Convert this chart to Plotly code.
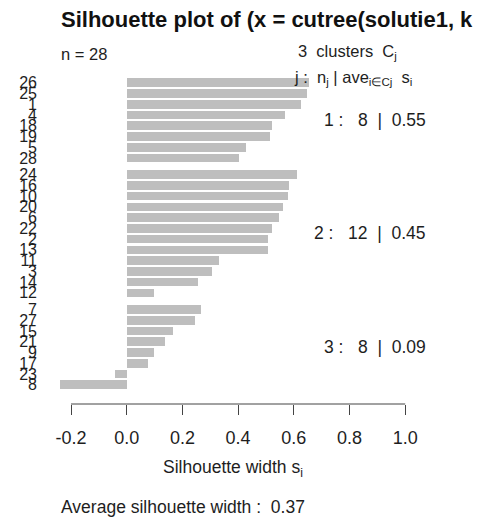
import plotly.graph_objects as go

# ---- data ----
cluster1_labels = ["26", "25", "1", "4", "18", "19", "5", "28"]
cluster1_values = [0.656, 0.648, 0.627, 0.567, 0.520, 0.515, 0.427, 0.404]
cluster2_labels = ["24", "16", "10", "20", "6", "22", "2", "13", "11", "3", "14", "12"]
cluster2_values = [0.610, 0.584, 0.579, 0.562, 0.546, 0.521, 0.506, 0.506, 0.333, 0.307, 0.257, 0.099]
cluster3_labels = ["7", "27", "15", "21", "9", "17", "23", "8"]
cluster3_values = [0.266, 0.244, 0.168, 0.139, 0.099, 0.075, -0.041, -0.239]
cluster_sizes = [8, 12, 8]
cluster_means = ["0.55", "0.45", "0.09"]
x_ticks = [-0.2, 0.0, 0.2, 0.4, 0.6, 0.8, 1.0]
x_tick_text = ["-0.2", "0.0", "0.2", "0.4", "0.6", "0.8", "1.0"]
avg_width = "0.37"

W, H = 478, 521
ML = 40
GAP = 0.55
FONT = "Liberation Sans, Arial, sans-serif"
TXT = "#1e1e1e"

labels, values, pos = [], [], []
slot = 0
for k, (lab, val) in enumerate([(cluster1_labels, cluster1_values),
                                 (cluster2_labels, cluster2_values),
                                 (cluster3_labels, cluster3_values)]):
    for l, v in zip(lab, val):
        labels.append(l)
        values.append(v)
        pos.append(slot + GAP * k)
        slot += 1

# pixel mapping helpers for layout text
def xp(px):
    return (px - ML) / (W - ML)

def yp(py):
    return 1 - py / H

x0px, xscale = 126.7, 278.5
xrange = [(ML - x0px) / xscale, (W - x0px) / xscale]
y0px, yscale = 82.7, 10.75
axis_py = 404
yrange = [(axis_py - y0px) / yscale, (0 - y0px) / yscale]

fig = go.Figure()
fig.add_trace(go.Bar(
    x=values, y=pos, orientation="h", width=0.8,
    marker=dict(color="#BEBEBE", line=dict(width=0)),
    hoverinfo="x+text", text=labels, textposition="none",
))

fig.update_layout(
    width=W, height=H,
    margin=dict(l=ML, r=0, t=0, b=0),
    paper_bgcolor="white", plot_bgcolor="white",
    showlegend=False,
    font=dict(family=FONT, color=TXT),
    bargap=0,
    xaxis=dict(range=xrange, showgrid=False, zeroline=False, showline=False,
               tickvals=x_ticks, ticktext=x_tick_text, ticks="outside",
               ticklen=10, tickwidth=1, tickcolor="#444",
               tickfont=dict(size=18, color=TXT), ticklabelstandoff=7),
    yaxis=dict(domain=[1 - axis_py / H, 1], range=yrange, showgrid=False,
               zeroline=False, showline=False, tickvals=pos, ticktext=labels,
               ticks="", tickfont=dict(size=16, color=TXT), ticklabelstandoff=2),
)

fig.add_shape(type="line", xref="x", yref="paper", x0=x_ticks[0], x1=x_ticks[-1],
              y0=yp(axis_py), y1=yp(axis_py), line=dict(color="#444", width=1))

nb = "\u00a0"
ann = []
ann.append(dict(text="<b>Silhouette plot of (x = cutree(solutie1, k = 3), dist = d)</b>",
                x=xp(59), y=yp(20), xanchor="left", yanchor="middle",
                font=dict(size=22, color="#111")))
ann.append(dict(text="n = 28", x=xp(59), y=yp(54), xanchor="left", yanchor="middle",
                font=dict(size=16.5)))
ann.append(dict(text=f"{len(cluster_sizes)}{nb*2}clusters{nb*2}C<sub>j</sub>",
                x=xp(296), y=yp(52), xanchor="left", yanchor="middle", font=dict(size=16.5)))
ann.append(dict(text=f"j{nb}:{nb}{nb}n<sub>j</sub>{nb}|{nb}ave<sub>i\u2208Cj</sub>{nb}{nb}s<sub>i</sub>",
                x=xp(292), y=yp(78), xanchor="left", yanchor="middle", font=dict(size=16.5)))
centers_py = [120, 233, 347]
for k in range(3):
    ann.append(dict(text=f"{k+1}{nb}:{nb}{nb}{nb}{cluster_sizes[k]}{nb}{nb}|{nb}{nb}{cluster_means[k]}",
                    x=xp(428), y=yp(centers_py[k]), xanchor="right", yanchor="middle",
                    font=dict(size=17.5)))
ann.append(dict(text="Silhouette width s<sub>i</sub>", x=xp(233), y=yp(468),
                xanchor="center", yanchor="middle", font=dict(size=17.5)))
ann.append(dict(text=f"Average silhouette width :{nb}{nb}{avg_width}", x=xp(59), y=yp(507),
                xanchor="left", yanchor="middle", font=dict(size=17.5)))
for a in ann:
    a.update(xref="paper", yref="paper", showarrow=False)
fig.update_layout(annotations=ann)

fig.write_html("out.html")
